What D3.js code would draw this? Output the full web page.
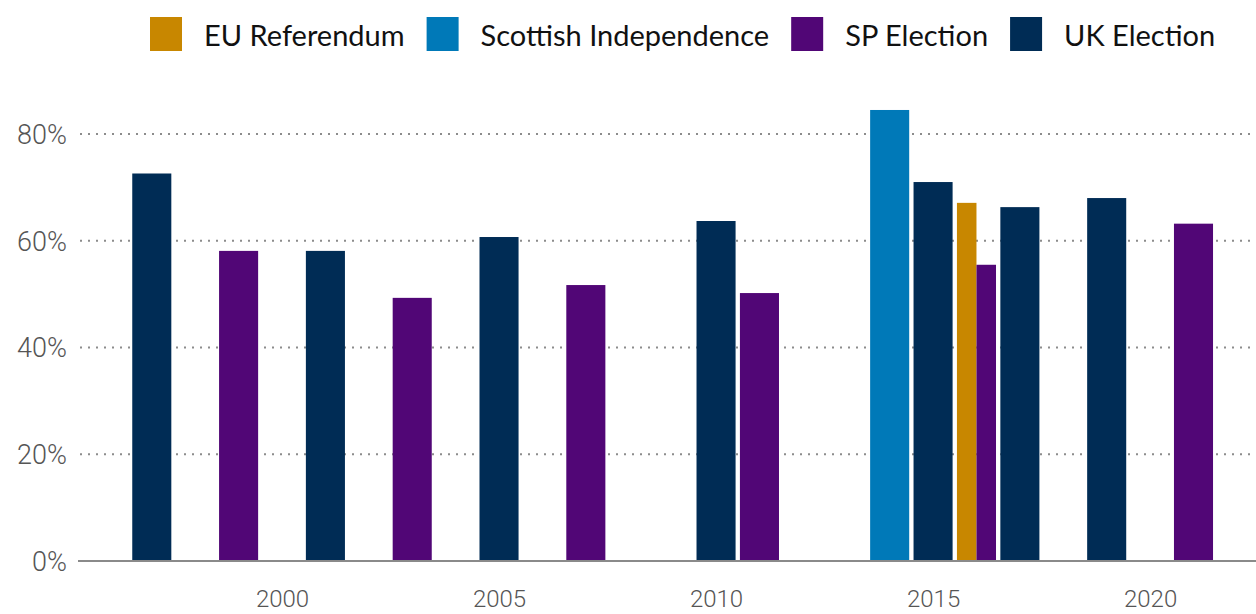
<!DOCTYPE html>
<html>
<head>
<meta charset="utf-8">
<script src="https://cdn.jsdelivr.net/npm/d3@7"></script>
<style>
  html, body { margin: 0; padding: 0; background: #fff; }
  svg { display: block; }
</style>
</head>
<body>
<svg id="chart" width="1256" height="614"></svg>
<script>
// Scottish turnout by type of vote (share of electorate, %)
const seriesNames = ["EU Referendum", "Scottish Independence", "SP Election", "UK Election"];
const seriesColors = ["#C88700", "#0079B8", "#510676", "#002C55"];

const ukYears = [1997, 2001, 2005, 2010, 2015, 2017, 2019];
const ukTurnout = [72.6, 58.1, 60.7, 63.7, 71.0, 66.3, 68.0];

const spYears = [1999, 2003, 2007, 2011, 2016, 2021];
const spTurnout = [58.1, 49.3, 51.7, 50.2, 55.5, 63.2];

const indyYears = [2014];
const indyTurnout = [84.5];

const euYears = [2016];
const euTurnout = [67.1];

const yTicks = [0, 20, 40, 60, 80];
const xTicks = [2000, 2005, 2010, 2015, 2020];

// Flatten into one record per bar
const records = [];
const addSeries = (name, years, vals) => years.forEach((y, i) => records.push({ series: name, year: y, value: vals[i] }));
addSeries("EU Referendum", euYears, euTurnout);
addSeries("Scottish Independence", indyYears, indyTurnout);
addSeries("SP Election", spYears, spTurnout);
addSeries("UK Election", ukYears, ukTurnout);

const svg = d3.select("#chart");
const left = 78, right = 1256, bottom = 561;

const x = d3.scaleLinear().domain([1995.3, 2022.44]).range([left, right]);
const y = d3.scaleLinear().domain([0, 80]).range([bottom, 134]);
const color = d3.scaleOrdinal().domain(seriesNames).range(seriesColors);

// Gridlines
svg.append("g")
  .selectAll("line")
  .data(yTicks.filter(d => d > 0))
  .join("line")
  .attr("x1", left + 2).attr("x2", right)
  .attr("y1", d => y(d)).attr("y2", d => y(d))
  .attr("stroke", "#8c8c8c")
  .attr("stroke-width", 2)
  .attr("stroke-dasharray", "2,6");

// Bars: each year gets a 0.9-year slot, shared equally when several votes fall in it
const slot = 0.9;
const byYear = d3.group(records, d => d.year);
const bars = [];
byYear.forEach((list, yr) => {
  list.sort((a, b) => seriesNames.indexOf(a.series) - seriesNames.indexOf(b.series));
  const w = slot / list.length;
  list.forEach((d, i) => bars.push({ ...d, x0: yr - slot / 2 + i * w, x1: yr - slot / 2 + (i + 1) * w }));
});

svg.append("g")
  .selectAll("rect")
  .data(bars)
  .join("rect")
  .attr("x", d => x(d.x0))
  .attr("width", d => x(d.x1) - x(d.x0))
  .attr("y", d => y(d.value))
  .attr("height", d => y(0) - y(d.value))
  .attr("fill", d => color(d.series));

// Baseline
svg.append("line")
  .attr("x1", left).attr("x2", right)
  .attr("y1", bottom).attr("y2", bottom)
  .attr("stroke", "#8a8a8a").attr("stroke-width", 2);

// Y axis labels
const yAxis = d3.axisLeft(y).tickValues(yTicks).tickFormat(d => d + "%").tickSize(0).tickPadding(0);
const gy = svg.append("g").attr("transform", `translate(67,0)`).call(yAxis);
gy.select(".domain").remove();
gy.selectAll("text")
  .attr("font-family", "Roboto, 'Open Sans', sans-serif")
  .attr("font-weight", 300)
  .attr("font-size", 27)
  .attr("fill", "#555")
  .attr("dy", "0.35em");

// X axis labels
const xAxis = d3.axisBottom(x).tickValues(xTicks).tickFormat(d3.format("d")).tickSize(0).tickPadding(0);
const gx = svg.append("g").attr("transform", `translate(0,${bottom})`).call(xAxis);
gx.select(".domain").remove();
gx.selectAll("text")
  .attr("font-family", "Roboto, 'Open Sans', sans-serif")
  .attr("font-weight", 300)
  .attr("font-size", 24)
  .attr("fill", "#555")
  .attr("dy", null)
  .attr("y", 46);

// Legend
const legend = svg.append("g");
let lx = 150;
seriesNames.forEach((name, i) => {
  const item = legend.append("g").attr("transform", `translate(${lx},0)`);
  item.append("rect").attr("x", 0).attr("y", 17).attr("width", 32).attr("height", 34).attr("fill", seriesColors[i]);
  const t = item.append("text")
    .attr("x", 54).attr("y", 46)
    .attr("font-family", "Lato, 'Noto Sans', sans-serif")
    .attr("font-size", 29)
    .attr("fill", "#111")
    .text(name);
  lx += 54 + t.node().getComputedTextLength() + 22;
});
</script>
</body>
</html>
